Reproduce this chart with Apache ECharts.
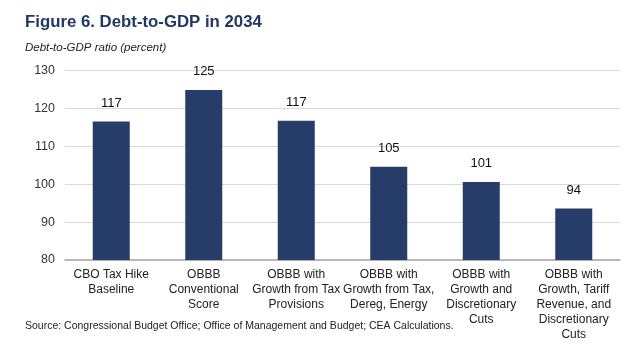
<!DOCTYPE html>
<html>
<head>
<meta charset="utf-8">
<script src="https://cdn.jsdelivr.net/npm/echarts@6/dist/echarts.min.js"></script>
<style>
  html, body { margin: 0; padding: 0; background: #fff; }
  #chart { width: 640px; height: 354px; }
</style>
</head>
<body>
<div id="chart"></div>
<script>
// categories (wrapped as in the source figure)
const categories = [
  'CBO Tax Hike\nBaseline',
  'OBBB\nConventional\nScore',
  'OBBB with\nGrowth from Tax\nProvisions',
  'OBBB with\nGrowth from Tax,\nDereg, Energy',
  'OBBB with\nGrowth and\nDiscretionary\nCuts',
  'OBBB with\nGrowth, Tariff\nRevenue, and\nDiscretionary\nCuts'
]
// debt-to-GDP ratio in 2034, percent
const debtToGdp = [116.6, 124.9, 116.8, 104.6, 100.6, 93.6]
const yTicks = {min: 80, max: 130, interval: 10}

const FONT = '"Liberation Sans", Arial, sans-serif'

const chart = echarts.init(document.getElementById('chart'))

chart.setOption({
  animation: false,
  textStyle: {fontFamily: FONT},
  title: [
    {
      text: 'Figure 6. Debt-to-GDP in 2034',
      left: 25, top: 14, padding: 0,
      textStyle: {fontFamily: FONT, fontSize: 16.8, fontWeight: 'bold', color: '#1f3864'}
    },
    {
      text: 'Debt-to-GDP ratio (percent)',
      left: 25, top: 42, padding: 0,
      textStyle: {fontFamily: FONT, fontSize: 11.5, fontStyle: 'italic', fontWeight: 'normal', color: '#222'}
    },
    {
      text: 'Source: Congressional Budget Office; Office of Management and Budget; CEA Calculations.',
      left: 25, top: 321, padding: 0,
      textStyle: {fontFamily: FONT, fontSize: 10.5, fontWeight: 'normal', color: '#222'}
    }
  ],
  grid: {left: 65, right: 20, top: 70.7, bottom: 94, containLabel: false},
  xAxis: {
    type: 'category',
    data: categories,
    axisLine: {lineStyle: {color: '#a6a6a6', width: 1.5}},
    axisTick: {show: false},
    axisLabel: {
      interval: 0,
      margin: 7,
      fontFamily: FONT,
      fontSize: 12,
      lineHeight: 15,
      color: '#222'
    }
  },
  yAxis: {
    type: 'value',
    min: yTicks.min,
    max: yTicks.max,
    interval: yTicks.interval,
    axisLine: {show: false},
    axisTick: {show: false},
    splitLine: {lineStyle: {color: '#d9d9d9', width: 1}},
    axisLabel: {fontFamily: FONT, fontSize: 12.5, color: '#333', margin: 10}
  },
  series: [{
    type: 'bar',
    data: debtToGdp,
    barWidth: '40%',
    itemStyle: {color: '#253d68'},
    label: {
      show: true,
      position: 'top',
      distance: 12,
      fontFamily: FONT,
      fontSize: 13,
      color: '#111',
      formatter: p => Math.round(p.value)
    }
  }]
})
</script>
</body>
</html>
